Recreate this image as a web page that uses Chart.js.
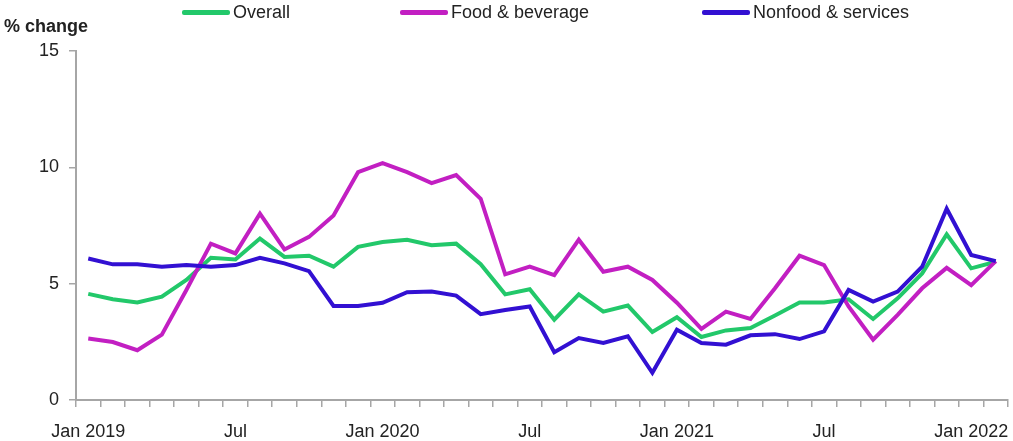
<!DOCTYPE html>
<html lang="en">
<head>
    <meta charset="UTF-8">
    <title>% change</title>
    <script src="https://cdn.jsdelivr.net/npm/chart.js"></script>
    <style>
        body {
            margin: 0;
            padding: 0;
            background: white;
            font-family: "Liberation Sans", Arial, sans-serif;
        }
        .wrap {
            position: relative;
            width: 1013px;
            height: 441px;
        }
        .ytitle {
            position: absolute;
            left: 4px;
            top: 16px;
            font-size: 18px;
            font-weight: bold;
            color: #222;
        }
        .legend-item {
            position: absolute;
            top: 2px;
            display: flex;
            align-items: center;
            font-size: 18px;
            color: #222;
            white-space: nowrap;
        }
        .legend-item i {
            display: inline-block;
            width: 48px;
            height: 5px;
            border-radius: 2px;
            margin-right: 3px;
        }
    </style>
</head>
<body>
    <div class="wrap">
        <canvas id="chart" width="1013" height="441"></canvas>
        <div class="ytitle">% change</div>
        <div id="legend"></div>
    </div>
    <script>
        // months Jan 2019 .. Feb 2022
        var months = [
            'Jan 2019', 'Feb 2019', 'Mar 2019', 'Apr 2019', 'May 2019', 'Jun 2019',
            'Jul 2019', 'Aug 2019', 'Sep 2019', 'Oct 2019', 'Nov 2019', 'Dec 2019',
            'Jan 2020', 'Feb 2020', 'Mar 2020', 'Apr 2020', 'May 2020', 'Jun 2020',
            'Jul 2020', 'Aug 2020', 'Sep 2020', 'Oct 2020', 'Nov 2020', 'Dec 2020',
            'Jan 2021', 'Feb 2021', 'Mar 2021', 'Apr 2021', 'May 2021', 'Jun 2021',
            'Jul 2021', 'Aug 2021', 'Sep 2021', 'Oct 2021', 'Nov 2021', 'Dec 2021',
            'Jan 2022', 'Feb 2022'
        ];
        // shown every 6th month
        var tickLabels = ['Jan 2019', 'Jul', 'Jan 2020', 'Jul', 'Jan 2021', 'Jul', 'Jan 2022'];

        var seriesNames = ['Overall', 'Food & beverage', 'Nonfood & services'];
        var seriesColors = ['#22c86a', '#c21fc2', '#3210d2'];

        var overall = [4.56, 4.33, 4.19, 4.44, 5.16, 6.11, 6.04, 6.94, 6.15, 6.20, 5.73, 6.58,
                       6.79, 6.89, 6.65, 6.72, 5.84, 4.54, 4.76, 3.45, 4.54, 3.80, 4.06, 2.92,
                       3.56, 2.71, 2.99, 3.09, 3.63, 4.19, 4.19, 4.33, 3.48, 4.37, 5.44, 7.12,
                       5.66, 5.94];
        var food = [2.64, 2.49, 2.14, 2.81, 4.73, 6.72, 6.30, 8.01, 6.47, 7.01, 7.93, 9.79,
                    10.18, 9.79, 9.32, 9.67, 8.65, 5.40, 5.73, 5.37, 6.89, 5.51, 5.73, 5.16,
                    4.18, 3.06, 3.80, 3.48, 4.80, 6.20, 5.80, 4.02, 2.59, 3.66, 4.80, 5.68,
                    4.94, 5.97];
        var nonfood = [6.08, 5.83, 5.83, 5.73, 5.80, 5.73, 5.80, 6.11, 5.87, 5.54, 4.04, 4.04,
                       4.18, 4.63, 4.66, 4.49, 3.69, 3.87, 4.02, 2.05, 2.66, 2.45, 2.74, 1.17,
                       3.02, 2.45, 2.38, 2.78, 2.83, 2.62, 2.95, 4.73, 4.23, 4.66, 5.73, 8.22,
                       6.23, 5.97];

        var values = [overall, food, nonfood];
        var axisColor = '#a6a6a6';
        var font = { family: '"Liberation Sans", Arial, sans-serif', size: 18 };

        // legend in html
        var legendLeft = [182, 400, 702];
        var legend = document.getElementById('legend');
        seriesNames.forEach(function(name, i) {
            var item = document.createElement('div');
            item.className = 'legend-item';
            item.style.left = legendLeft[i] + 'px';
            item.innerHTML = '<i style="background:' + seriesColors[i] + '"></i>';
            item.appendChild(document.createTextNode(name));
            legend.appendChild(item);
        });

        var datasets = values.map(function(v, i) {
            return {
                label: seriesNames[i],
                data: v,
                borderColor: seriesColors[i],
                backgroundColor: seriesColors[i],
                borderWidth: 4,
                pointRadius: 0,
                tension: 0,
                order: 2 - i
            };
        });

        new Chart(document.getElementById('chart'), {
            type: 'line',
            data: { labels: months, datasets: datasets },
            options: {
                responsive: false,
                animation: false,
                layout: { padding: { top: 51, right: 5, left: 0, bottom: 0 } },
                plugins: {
                    legend: { display: false },
                    tooltip: { enabled: false }
                },
                scales: {
                    x: {
                        offset: true,
                        afterFit: function(scale) { scale.height = 41; },
                        grid: {
                            offset: true,
                            drawOnChartArea: false,
                            drawTicks: true,
                            tickLength: 7,
                            color: axisColor,
                            lineWidth: 1.5
                        },
                        border: { color: axisColor, width: 2 },
                        ticks: {
                            autoSkip: false,
                            maxRotation: 0,
                            padding: 14,
                            color: '#222',
                            font: font,
                            callback: function(val, idx) {
                                return idx % 6 === 0 ? tickLabels[idx / 6] : '';
                            }
                        }
                    },
                    y: {
                        min: 0,
                        max: 15,
                        afterFit: function(scale) { scale.width = 76; },
                        grid: {
                            drawOnChartArea: false,
                            tickLength: 7,
                            color: axisColor,
                            lineWidth: 1.5
                        },
                        border: { color: axisColor, width: 2 },
                        ticks: {
                            stepSize: 5,
                            padding: 10,
                            color: '#222',
                            font: font
                        }
                    }
                }
            }
        });
    </script>
</body>
</html>
